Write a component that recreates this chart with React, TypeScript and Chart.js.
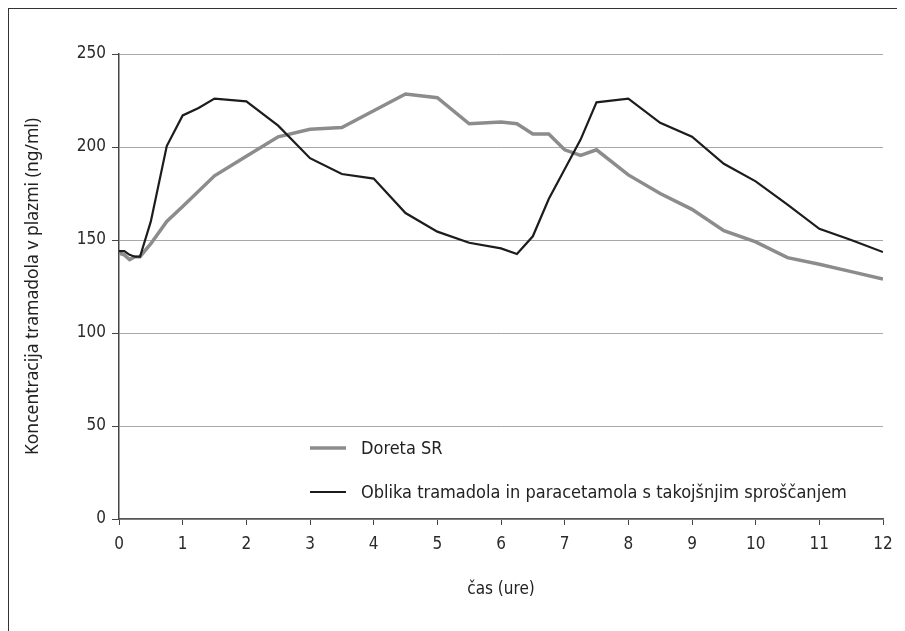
import React, { useEffect, useRef } from "react";
import { Chart, registerables } from "chart.js";

Chart.register(...registerables);

const seriesLabels = [
  "Doreta SR",
  "Oblika tramadola in paracetamola s takojšnjim sproščanjem",
];

const timesDoreta = [0, 0.083, 0.167, 0.25, 0.33, 0.5, 0.75, 1, 1.5, 2, 2.5, 3, 3.5, 4, 4.5, 5, 5.5, 6, 6.25, 6.5, 6.75, 7, 7.25, 7.5, 8, 8.5, 9, 9.5, 10, 10.5, 11, 11.5, 12];
const valuesDoreta = [143, 142, 139.5, 141, 141, 148, 160, 168, 184.5, 195, 205.5, 209.5, 210.5, 219.5, 228.5, 226.5, 212.5, 213.5, 212.5, 207, 207, 198.5, 195.5, 198.5, 185, 175, 166.5, 155, 149, 140.5, 137, 133, 129];

const timesIR = [0, 0.083, 0.167, 0.25, 0.33, 0.5, 0.75, 1, 1.25, 1.5, 2, 2.5, 3, 3.5, 4, 4.5, 5, 5.5, 6, 6.25, 6.5, 6.75, 7, 7.25, 7.5, 8, 8.5, 9, 9.5, 10, 10.5, 11, 11.5, 12];
const valuesIR = [144, 144, 142, 141, 141, 160, 200.5, 217, 221, 226, 224.5, 211.5, 194, 185.5, 183, 164.5, 154.5, 148.5, 145.5, 142.5, 152, 172, 188, 204, 224, 226, 213, 205.5, 191, 181.5, 169, 156, 150, 143.5];

const xTickValues = [0, 1, 2, 3, 4, 5, 6, 7, 8, 9, 10, 11, 12];
const yTickValues = [0, 50, 100, 150, 200, 250];

const xTitle = "čas (ure)";
const yTitle = "Koncentracija tramadola v plazmi (ng/ml)";

const FONT = "'DejaVu Sans Condensed', 'DejaVu Sans', sans-serif";

const legendPlugin = {
  id: "insideLegend",
  afterDraw(chart: any) {
    const { ctx, chartArea } = chart;
    ctx.save();
    chart.data.datasets.forEach((ds: any, i: number) => {
      const y = chartArea.top + 394 + i * 44;
      const x0 = chartArea.left + 191;
      ctx.strokeStyle = ds.borderColor;
      ctx.lineWidth = ds.borderWidth;
      ctx.beginPath();
      ctx.moveTo(x0, y);
      ctx.lineTo(x0 + 36, y);
      ctx.stroke();
      ctx.fillStyle = "#222";
      ctx.font = "18px " + FONT;
      ctx.textBaseline = "middle";
      ctx.textAlign = "left";
      ctx.fillText(ds.label, x0 + 51, y + 1);
    });
    ctx.restore();
  },
};

export default function App() {
  const canvasRef = useRef<HTMLCanvasElement | null>(null);

  useEffect(() => {
    document.body.style.overflow = "hidden";
    const canvas = canvasRef.current;
    if (!canvas) return;
    const chart = new Chart(canvas, {
      type: "scatter",
      data: {
        datasets: [
          {
            label: seriesLabels[0],
            data: timesDoreta.map((t, i) => ({ x: t, y: valuesDoreta[i] })),
            showLine: true,
            borderColor: "#8c8c8c",
            backgroundColor: "#8c8c8c",
            borderWidth: 3.5,
            pointRadius: 0,
            tension: 0,
            order: 1,
          },
          {
            label: seriesLabels[1],
            data: timesIR.map((t, i) => ({ x: t, y: valuesIR[i] })),
            showLine: true,
            borderColor: "#1c1c1c",
            backgroundColor: "#1c1c1c",
            borderWidth: 2.2,
            pointRadius: 0,
            tension: 0,
            order: 0,
          },
        ],
      },
      options: {
        responsive: false,
        animation: false,
        devicePixelRatio: 1,
        layout: { padding: { left: 0, right: 22, top: 45, bottom: 31 } },
        plugins: {
          legend: { display: false },
          tooltip: { enabled: false },
        },
        scales: {
          x: {
            type: "linear",
            min: 0,
            max: 12,
            afterFit: (s: any) => {
              s.height = 81;
            },
            afterBuildTicks: (s: any) => {
              s.ticks = xTickValues.map((v) => ({ value: v }));
            },
            ticks: {
              color: "#2a2a2a",
              font: { family: FONT, size: 17 },
              padding: 9,
              maxRotation: 0,
              autoSkip: false,
            },
            grid: {
              display: true,
              drawOnChartArea: false,
              drawTicks: true,
              tickLength: 6,
              tickColor: "#444",
              lineWidth: 1,
            },
            border: { display: true, color: "#555", width: 1.5 },
            title: {
              display: true,
              text: xTitle,
              color: "#222",
              font: { family: FONT, size: 17 },
              padding: 0,
            },
          },
          y: {
            type: "linear",
            min: 0,
            max: 250,
            afterFit: (s: any) => {
              s.width = 110;
            },
            afterBuildTicks: (s: any) => {
              s.ticks = yTickValues.map((v) => ({ value: v }));
            },
            ticks: {
              color: "#2a2a2a",
              font: { family: FONT, size: 17 },
              padding: 6,
            },
            grid: {
              color: "#a8a8a8",
              lineWidth: 1,
              drawTicks: true,
              tickLength: 7,
              tickColor: "#444",
            },
            border: { display: true, color: "#444", width: 1.5 },
            title: {
              display: true,
              text: yTitle,
              color: "#222",
              font: { family: "'Noto Sans', 'Open Sans', sans-serif", size: 17.5 },
              padding: { top: 14, bottom: 0 },
            },
          },
        },
      },
      plugins: [legendPlugin],
    });
    return () => chart.destroy();
  }, []);

  return (
    <div
      style={{
        width: 897,
        height: 623,
        borderLeft: "1px solid #333",
        borderTop: "1px solid #333",
        boxSizing: "border-box",
        background: "#fff",
      }}
    >
      <canvas ref={canvasRef} width={896} height={622} style={{ display: "block", width: 896, height: 622 }} />
    </div>
  );
}
